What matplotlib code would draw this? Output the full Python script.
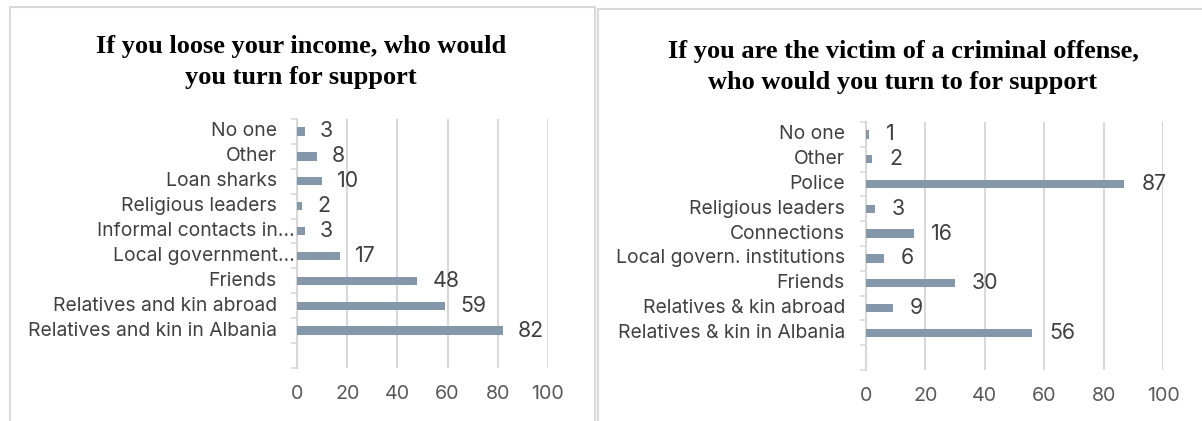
import numpy as np
import matplotlib.pyplot as plt
from matplotlib.patches import Rectangle
from matplotlib.transforms import ScaledTranslation

# Income loss: who would you turn to (top to bottom as shown)
income_labels = ["No one", "Other", "Loan sharks", "Religious leaders",
                 "Informal contacts in\u2026", "Local government\u2026", "Friends",
                 "Relatives and kin abroad", "Relatives and kin in Albania"]
income_values = [3, 8, 10, 2, 3, 17, 48, 59, 82]
income_title = "If you loose your income, who would\nyou turn for support"

# Victim of a criminal offense: who would you turn to
crime_labels = ["No one", "Other", "Police", "Religious leaders", "Connections",
                "Local govern. institutions", "Friends", "Relatives & kin abroad",
                "Relatives & kin in Albania"]
crime_values = [1, 2, 87, 3, 16, 6, 30, 9, 56]
crime_title = "If you are the victim of a criminal offense,\nwho would you turn to for support"

x_ticks = [0, 20, 40, 60, 80, 100]

BAR = "#8597AA"
GRID = "#D9D9D9"
LABEL = "#404040"
TICK = "#595959"
SANS = ["Inter", "DejaVu Sans"]
SERIF = ["Liberation Serif", "DejaVu Serif"]

W, H = 1202, 421
fig = plt.figure(figsize=(W / 100, H / 100), dpi=100)


def px_axes(x0, y0, x1, y1):
    # axes from pixel box (top-left origin)
    return fig.add_axes([x0 / W, 1 - y1 / H, (x1 - x0) / W, (y1 - y0) / H])


def panel(box, labels, values, title, title_y, short=(), pad=20, val_off=15):
    ax = px_axes(*box)
    n = len(labels)
    ypos = np.arange(n)[::-1]
    ax.barh(ypos, values, height=0.34, color=BAR, zorder=3)
    ax.set_xlim(0, 100)
    ax.set_ylim(-1.5, n - 0.5)
    ax.set_xticks(x_ticks)
    ax.grid(axis="x", color=GRID, linewidth=1.5, zorder=0)
    ax.set_yticks(np.arange(-1.5, n, 1.0))
    ax.set_yticklabels([])
    ax.tick_params(axis="y", direction="out", length=4, width=1.2, color=GRID)
    ax.tick_params(axis="x", length=0, pad=12.5, labelsize=14.2, labelcolor=TICK)
    for lbl in ax.get_xticklabels():
        lbl.set_family(SANS)
    for s in ["top", "right", "bottom"]:
        ax.spines[s].set_visible(False)
    ax.spines["left"].set_color(GRID)
    ax.spines["left"].set_linewidth(1.5)
    tr = ax.get_yaxis_transform()
    for y, lab in zip(ypos, labels):
        off = 2 if lab in short else pad
        ax.text(0, y, lab, transform=tr + ScaledTranslation(-off / 100, 0, fig.dpi_scale_trans),
                ha="right", va="center", fontsize=13.9, color=LABEL, family=SANS)
    for y, v in zip(ypos, values):
        ax.annotate(str(v), (v, y), xytext=(val_off * 0.72, 0), textcoords="offset points",
                    ha="left", va="center", fontsize=15.4, color=LABEL, family=SANS)
    fig.text(title[1] / W, 1 - title_y / H, title[0], ha="center", va="center",
             fontsize=19, fontweight="bold", family=SERIF, linespacing=1.45)
    return ax


panel((297, 119, 548, 368), income_labels, income_values, (income_title, 301), 62,
      short=("Informal contacts in\u2026", "Local government\u2026"))
panel((866, 122, 1163, 370), crime_labels, crime_values, (crime_title, 903), 67,
      pad=21, val_off=17)

# chart frames
fig.add_artist(Rectangle((9.5 / W, -0.1), (595 - 9.5) / W, 1.1 - 7 / H,
                         transform=fig.transFigure, fill=False, edgecolor=GRID, linewidth=1.5))
fig.add_artist(Rectangle((598 / W, -0.1), 0.6, 1.1 - 9 / H,
                         transform=fig.transFigure, fill=False, edgecolor=GRID, linewidth=1.5))

fig.savefig("out.png", dpi=100, facecolor="white")
